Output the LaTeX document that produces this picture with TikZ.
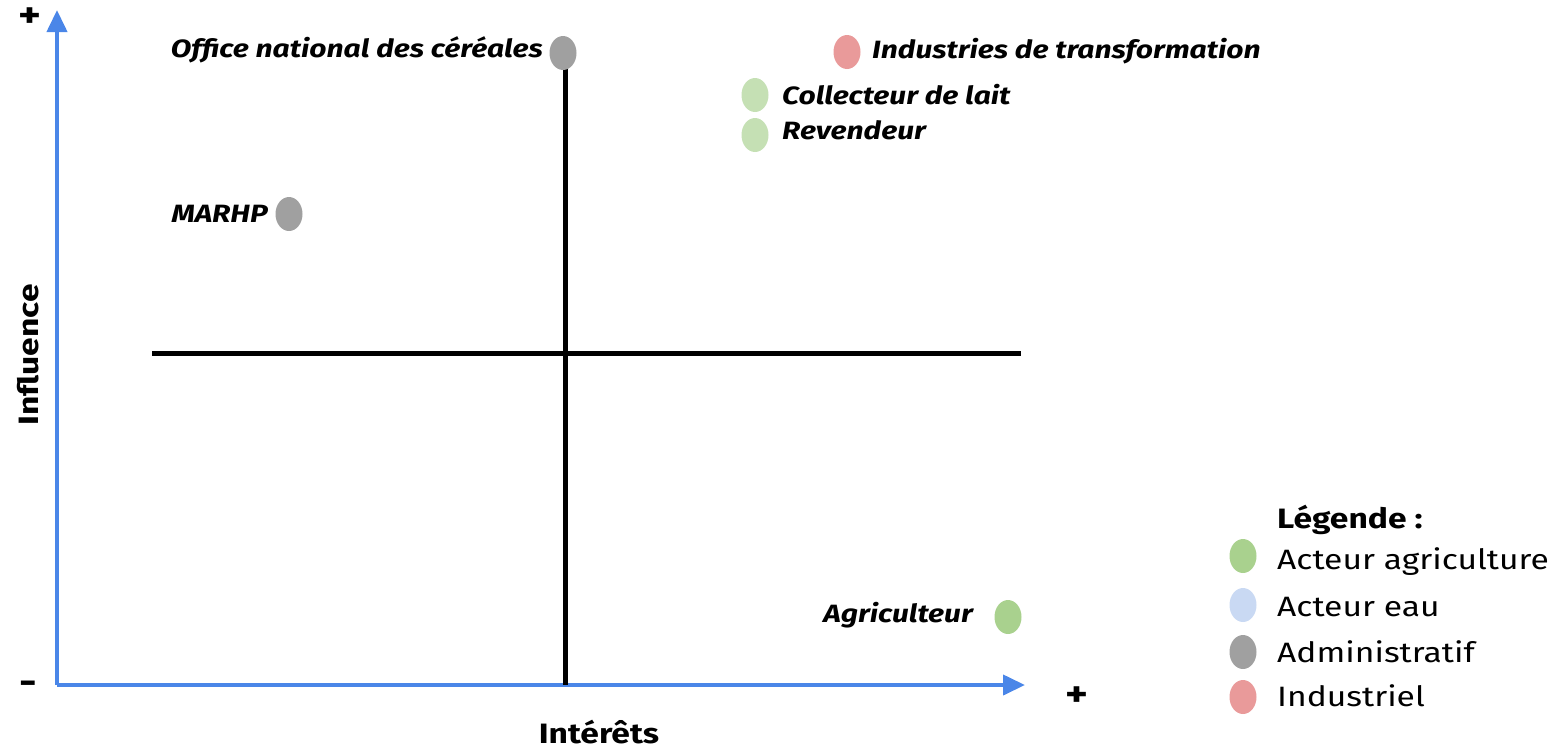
\documentclass[tikz,border=0pt]{standalone}
\usepackage{fontspec}
\setmainfont{Fira Sans}[FakeStretch=1.2]
\usetikzlibrary{arrows.meta,shapes.geometric}
\definecolor{axisblue}{HTML}{4A86E8}
\definecolor{dotgray}{HTML}{A0A0A0}
\definecolor{dotred}{HTML}{E99A9A}
\definecolor{dotlgreen}{HTML}{C5E0B4}
\definecolor{dotgreen}{HTML}{A9D18E}
\definecolor{dotblue}{HTML}{C9D9F3}
\tikzset{
  axis/.style={draw=axisblue, line width=4pt, -{Triangle[length=22pt,width=20pt]}},
  cross/.style={draw=black, line width=5pt},
  dot/.style={ellipse, minimum width=27pt, minimum height=34pt, inner sep=0pt},
  lab/.style={font=\fontsize{25}{30}\selectfont\bfseries\itshape, inner sep=0pt},
  leg/.style={font=\fontsize{28}{34}\selectfont, inner sep=0pt, anchor=west},
  sign/.style={font=\fontsize{36}{40}\selectfont\bfseries, inner sep=0pt},
}
\begin{document}
\begin{tikzpicture}[x=1pt,y=-1pt]
\useasboundingbox (0,0) rectangle (1557,750);
% axes
\coordinate (o) at (57,685);
\coordinate (ytop) at (57,10);
\coordinate (xend) at (1025,685);
\draw[axis] (o) -- (ytop);
\draw[axis] (o) -- (xend);
% cross
\coordinate (vt) at (565,68);
\coordinate (vb) at (565,685);
\coordinate (hl) at (152,353);
\coordinate (hr) at (1021,353);
\draw[cross] (vt) -- (vb);
\draw[cross] (hl) -- (hr);
% signs
\node[sign] (pTop) at (30,18) {+};
\node[sign] (mBot) at (28,688) {-};
\node[sign] (pRight) at (1077,697) {+};
\node[font=\fontsize{28}{34}\selectfont\bfseries, rotate=90, inner sep=0pt] (infl) at (28,355) {Influence};
\node[font=\fontsize{28}{34}\selectfont\bfseries, inner sep=0pt] (inter) at (599,732) {Intérêts};
% actors
\node[dot, fill=dotgray] (onc) at (563,53) {};
\node[lab, anchor=east] (oncL) at (543,50) {Office national des céréales};
\node[dot, fill=dotgray] (marhp) at (289,214) {};
\node[lab, anchor=east] (marhpL) at (268,214) {MARHP};
\node[dot, fill=dotred] (ind) at (847,52) {};
\node[lab, anchor=west] (indL) at (872,51) {Industries de transformation};
\node[dot, fill=dotlgreen] (col) at (755,95) {};
\node[lab, anchor=west] (colL) at (782,95) {Collecteur de lait};
\node[dot, fill=dotlgreen] (rev) at (755,135) {};
\node[lab, anchor=west] (revL) at (782,130) {Revendeur};
\node[dot, fill=dotgreen] (agr) at (1008,617) {};
\node[lab, anchor=east] (agrL) at (973,615) {Agriculteur};
% legend
\node[leg, font=\fontsize{28}{34}\selectfont\bfseries] (legT) at (1277,520) {Légende :};
\node[dot, fill=dotgreen] (l1) at (1243,556) {};
\node[leg] (l1L) at (1277,562) {Acteur agriculture};
\node[dot, fill=dotblue] (l2) at (1243,605) {};
\node[leg] (l2L) at (1277,607) {Acteur eau};
\node[dot, fill=dotgray] (l3) at (1243,652) {};
\node[leg] (l3L) at (1277,652) {Administratif};
\node[dot, fill=dotred] (l4) at (1243,697) {};
\node[leg] (l4L) at (1277,696) {Industriel};
\end{tikzpicture}
\end{document}
